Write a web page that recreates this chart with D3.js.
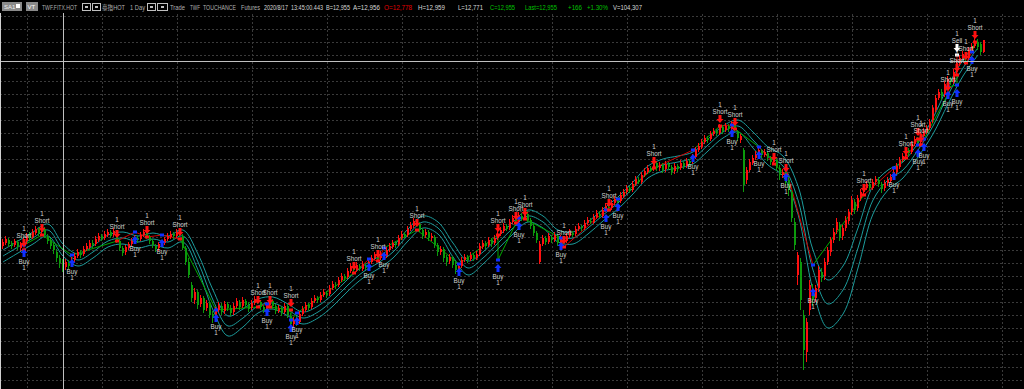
<!DOCTYPE html>
<html><head><meta charset="utf-8">
<script src="https://cdn.jsdelivr.net/npm/d3@7"></script>
<style>html,body{margin:0;padding:0;background:#000;overflow:hidden}</style>
</head><body><svg id="c" width="1024" height="389"></svg>
<script>
// ---------- DATA (daily OHLC, TWF.FITX.HOT) ----------
const opens=[9870,9915,9960,9915,9885,9930,9840,9900,9945,10035,
10005,10065,10125,10080,10125,10020,9960,9885,9780,9690,
9630,9555,9615,9585,9660,9720,9765,9750,9825,9855,
9915,9900,9960,10020,9990,10035,10080,10035,10080,9945,
9840,9780,9840,9900,9930,9990,9975,10035,10080,10005,
9945,9870,9840,9900,9915,9975,10005,10050,10020,10080,
10020,9840,9630,9285,9060,9180,9000,9090,8940,9015,
8850,8790,8910,8970,8895,9000,8940,8880,8970,9030,
8970,9045,8985,8940,9015,9075,9030,8955,8910,8985,
9045,8970,8895,8940,8880,8970,8820,8700,8775,8730,
8850,8910,8985,8955,9045,9090,9060,9135,9165,9150,
9240,9285,9285,9360,9420,9405,9495,9570,9510,9570,
9525,9585,9555,9630,9690,9735,9690,9735,9720,9810,
9855,9915,9900,9990,10050,10035,10125,10170,10245,10200,
10110,10035,10080,9990,10005,9885,9780,9825,9705,9645,
9690,9585,9525,9570,9660,9705,9675,9735,9690,9750,
9855,9915,9885,9960,9915,9990,10050,10095,10170,10140,
10230,10275,10245,10320,10290,10350,10260,10170,10065,9630,
9900,9990,9930,10005,9960,10020,9915,9975,9945,10020,
10065,10050,10125,10155,10140,10215,10245,10230,10305,10350,
10320,10410,10455,10440,10515,10560,10545,10620,10680,10725,
10710,10800,10860,10830,10935,10980,11040,11025,11115,11040,
11085,11025,11100,11055,10995,11070,11040,11115,11070,11145,
11130,11205,11310,11355,11430,11490,11475,11550,11595,11565,
11655,11610,11670,11625,11700,11580,11460,11310,10860,11010,
11115,11190,11235,11295,11235,11265,11190,11130,11160,11040,
10935,10980,10860,10680,10230,9435,9630,8835,8280,8910,
9210,9090,9240,9480,9420,9630,9780,9960,10110,10185,
10020,10140,10245,10380,10530,10440,10590,10680,10740,10800,
10740,10830,10860,10800,10740,10815,10845,10890,10980,11055,
11160,11220,11310,11280,11400,11460,11430,11520,11580,11640,
11760,11910,12090,12180,12135,12285,12360,12330,12480,12600,
12690,12735,12690,12795,12870,12930,12900,12778];
const highs=[9975,10020,9990,9945,9975,9960,9930,10005,10065,10080,
10125,10170,10155,10200,10155,10050,9990,9915,9825,9735,
9675,9675,9660,9705,9765,9825,9810,9870,9915,9960,
9960,10020,10065,10050,10095,10125,10110,10140,10110,9975,
9870,9885,9930,9990,10035,10020,10080,10125,10110,10035,
9975,9900,9930,9960,10005,10065,10095,10080,10125,10125,
10050,9870,9690,9330,9240,9210,9135,9120,9060,9045,
8895,8955,9030,9015,9045,9030,8985,9015,9090,9060,
9105,9075,9030,9060,9120,9120,9060,8985,9030,9105,
9075,9000,8985,8970,9015,9000,8865,8805,8820,8895,
8970,9030,9015,9090,9135,9120,9180,9225,9195,9285,
9345,9330,9405,9465,9450,9540,9615,9600,9630,9600,
9645,9615,9675,9735,9780,9765,9795,9765,9855,9915,
9960,9945,10035,10095,10080,10170,10230,10290,10275,10230,
10140,10125,10110,10065,10035,9915,9870,9855,9735,9750,
9720,9630,9615,9705,9750,9735,9780,9765,9795,9915,
9960,9945,10005,9990,10035,10095,10155,10215,10200,10275,
10335,10320,10380,10365,10410,10395,10290,10200,10095,9945,
10035,10020,10065,10035,10080,10050,10035,10005,10065,10125,
10095,10170,10215,10185,10260,10305,10290,10350,10410,10395,
10455,10515,10500,10560,10620,10605,10680,10725,10785,10770,
10845,10920,10905,10980,11040,11085,11070,11160,11145,11130,
11115,11145,11130,11085,11115,11100,11160,11145,11190,11175,
11250,11355,11415,11475,11535,11520,11595,11640,11625,11700,
11685,11715,11700,11745,11730,11610,11550,11340,11055,11175,
11235,11295,11355,11325,11325,11295,11220,11220,11190,11085,
11025,11010,10905,10710,10290,9780,9690,8910,8790,9360,
9300,9285,9570,9540,9690,9855,10005,10140,10290,10230,
10185,10320,10425,10620,10575,10635,10725,10785,10845,10830,
10875,10920,10905,10830,10860,10905,10950,11025,11115,11205,
11265,11355,11340,11445,11520,11505,11565,11640,11685,11775,
11985,12135,12225,12225,12345,12420,12405,12525,12660,12735,
12795,12780,12855,12915,12990,12975,12930,12959];
const lows=[9825,9885,9855,9825,9855,9810,9795,9870,9915,9945,
9975,10035,10020,10050,9990,9900,9825,9750,9630,9540,
9480,9510,9525,9555,9630,9690,9690,9720,9795,9825,
9840,9870,9930,9945,9960,10005,9990,10005,9915,9795,
9720,9735,9810,9870,9900,9915,9945,10005,9975,9900,
9840,9780,9795,9855,9885,9945,9975,9975,9990,10005,
9810,9585,9390,9030,9000,8925,8955,8865,8895,8790,
8715,8760,8880,8835,8850,8895,8820,8835,8940,8910,
8940,8940,8880,8910,8985,9000,8910,8865,8880,8955,
8925,8850,8865,8820,8850,8790,8610,8655,8670,8700,
8820,8880,8895,8925,9015,9015,9030,9105,9090,9120,
9210,9225,9255,9330,9345,9375,9465,9480,9480,9495,
9495,9510,9525,9600,9660,9645,9660,9660,9690,9780,
9825,9840,9870,9960,9990,10005,10095,10140,10155,10080,
9975,9990,9945,9945,9840,9720,9735,9630,9570,9600,
9540,9450,9480,9540,9630,9615,9645,9645,9660,9720,
9825,9825,9855,9855,9885,9960,10020,10065,10095,10110,
10200,10215,10215,10245,10260,10230,10125,10020,9915,9600,
9870,9885,9900,9915,9930,9870,9885,9900,9915,9990,
10005,10020,10095,10095,10110,10185,10200,10200,10275,10290,
10290,10380,10410,10410,10485,10500,10515,10590,10650,10665,
10680,10770,10800,10800,10905,10950,10980,10995,10995,10995,
10965,10980,11010,10935,10950,10980,11010,11025,11040,11070,
11100,11175,11280,11325,11400,11415,11445,11520,11520,11535,
11550,11580,11580,11595,11565,11445,11415,10680,10800,10980,
11085,11160,11205,11190,11205,11145,11085,11085,10995,10860,
10890,10785,10620,10230,9810,9285,8910,8010,8130,8835,
8970,9030,9180,9330,9360,9585,9720,9915,10050,9945,
9960,10095,10200,10335,10350,10395,10545,10635,10710,10695,
10710,10785,10755,10665,10695,10770,10815,10860,10950,11025,
11130,11190,11220,11250,11370,11385,11400,11490,11550,11610,
11715,11880,12060,12060,12105,12255,12285,12300,12450,12570,
12660,12630,12660,12765,12840,12810,12735,12771];
const closes=[9930,9975,9900,9870,9945,9855,9900,9960,10020,9990,
10080,10125,10065,10140,10035,9945,9870,9810,9690,9615,
9540,9630,9570,9660,9720,9780,9735,9825,9870,9915,
9885,9975,10020,9975,10050,10080,10020,10095,9960,9840,
9765,9855,9900,9945,9990,9960,10035,10080,10005,9945,
9885,9825,9900,9930,9975,10020,10050,10020,10080,10035,
9840,9630,9435,9090,9180,8985,9090,8910,9015,8835,
8790,8910,8985,8880,9000,8940,8865,8970,9045,8955,
9060,8985,8925,9015,9075,9030,8955,8910,8985,9060,
8970,8895,8940,8865,8970,8835,8700,8760,8730,8850,
8925,8985,8940,9045,9090,9060,9135,9180,9135,9240,
9300,9270,9360,9420,9390,9495,9570,9510,9585,9525,
9600,9540,9630,9690,9735,9675,9750,9705,9810,9870,
9915,9885,9990,10050,10020,10125,10185,10245,10200,10110,
10020,10080,9990,10020,9885,9780,9825,9690,9630,9705,
9585,9510,9570,9660,9705,9660,9735,9690,9750,9870,
9915,9870,9960,9900,9990,10050,10110,10170,10125,10230,
10290,10245,10335,10275,10365,10260,10170,10065,9960,9900,
9990,9930,10020,9960,10035,9915,9990,9945,10020,10080,
10035,10125,10170,10140,10215,10260,10230,10305,10365,10320,
10410,10470,10440,10515,10575,10530,10635,10680,10740,10695,
10800,10875,10830,10935,10995,11040,11010,11115,11040,11085,
11010,11100,11055,10980,11070,11025,11115,11070,11145,11115,
11205,11310,11370,11430,11490,11460,11550,11595,11565,11655,
11595,11670,11625,11700,11610,11490,11520,10785,11010,11130,
11190,11250,11310,11235,11280,11190,11130,11175,11055,10935,
10980,10860,10710,10290,9885,9735,9060,8310,8730,9285,
9060,9240,9510,9390,9630,9810,9960,10080,10230,9990,
10140,10260,10380,10560,10410,10590,10680,10740,10800,10740,
10830,10875,10800,10725,10815,10860,10905,10980,11070,11160,
11220,11310,11265,11400,11475,11430,11520,11595,11640,11730,
11940,12090,12180,12120,12300,12375,12330,12480,12615,12690,
12750,12675,12810,12870,12945,12855,12780,12955];

// indicator bands, sampled every 5th bar
const bandEvery = 5;
const bandUpper=[9810,9945,10080,10200,9900,9750,9870,10035,10080,10020,
10065,10020,10110,9750,9210,8820,8925,9075,9105,9000,
8880,8970,9150,9375,9570,9705,9870,10125,10320,10230,
9915,9645,9780,10005,10230,10410,10320,10110,10080,10230,
10425,10605,10830,11070,11175,11220,11280,11475,11670,11760,
11580,11355,11220,10770,9810,9360,9570,10140,10770,11010,
11130,11415,11790,12270,12660,12945];
const bandMid=[9720,9855,9990,10110,9810,9660,9780,9945,9990,9930,
9975,9930,10020,9630,9060,8670,8790,8970,9015,8910,
8790,8880,9060,9285,9480,9615,9780,10035,10230,10140,
9810,9540,9690,9915,10140,10320,10230,10020,9990,10140,
10335,10515,10740,10980,11085,11130,11190,11385,11580,11670,
11460,11220,11070,10560,9510,9000,9210,9840,10560,10860,
11010,11310,11670,12135,12540,12840];
const bandLower=[9630,9765,9900,10020,9720,9570,9690,9855,9900,9840,
9885,9840,9930,9510,8910,8520,8655,8865,8925,8820,
8700,8790,8970,9195,9390,9525,9690,9945,10140,10050,
9705,9435,9600,9825,10050,10230,10140,9930,9900,10050,
10245,10425,10650,10890,10995,11040,11100,11295,11490,11580,
11340,11085,10920,10350,9210,8640,8850,9540,10350,10710,
10890,11205,11550,12000,12420,12735];

// strategy signals
const sigBars=[7,7,13,23,38,44,48,53,59,71,85,88,89,96,96,98,117,122,125,127,138,152,165,165,171,172,174,186,187,201,202,205,217,230,239,243,244,252,257,261,261,270,287,297,301,305,305,306,307,315,315,318,318,318,321,323,324];
const sigTypes=["Short","Buy","Short","Buy","Short","Buy","Short","Buy","Short","Buy","Short","Buy","Short","Short","Buy","Buy","Short","Buy","Short","Buy","Short","Buy","Short","Buy","Short","Buy","Short","Buy","Short","Buy","Short","Buy","Short","Buy","Short","Buy","Short","Buy","Short","Short","Buy","Buy","Short","Buy","Short","Short","Buy","Short","Buy","Short","Buy","Buy","Short","Sell","Short","Buy","Short"];
const sigMarks=[9915,9765,10140,9615,10050,9960,10110,9915,10080,8790,9060,8880,9060,9015,8640,8745,9570,9555,9750,9720,10215,9480,10140,9540,10320,10170,10380,9870,9960,10290,10515,10455,11145,11190,11775,11565,11730,11235,11205,11040,10905,9180,10740,10920,11295,11580,11265,11490,11355,12255,12135,12165,12540,12840,12720,12660,13035];
const sigFills=[9810,9885,10035,9735,9945,10080,10005,10035,9975,8910,8955,9000,8955,8910,8760,8865,9465,9675,9645,9840,10110,9600,10035,9660,10215,10290,10275,9990,9855,10410,10410,10575,11040,11310,11670,11685,11625,11355,11100,10935,11025,9585,10635,11040,11190,11475,11385,11385,11475,12150,12255,12285,12435,12735,12615,12780,12930];
const sigQty=1;

// header texts
const headerTexts=["TWF.FITX.HOT","臺指HOT","1 Day","Trade","TWF","TOUCHANCE","Futures","2020/8/17","13:45:00.443","B=12,955","A=12,956","O=12,778","H=12,959","L=12,771","C=12,955","Last=12,955","+166","+1.30%","V=104,307"];

// ---------- LAYOUT ----------
const W=1024,H=389;
const headerX=[42,102,130,170,190,203,241,264,291,326,353,384,418,458,490,525,568,587,613];
const headerW=[35,23,15,15,10,33,19,24,32,24,27,28,27,25,25,32,14,21,29];
const headerCol=["#b0b0b0","#b0b0b0","#b0b0b0","#b0b0b0","#b0b0b0","#b0b0b0","#b0b0b0","#d8d8d8","#d8d8d8","#d8d8d8","#d8d8d8","#e00000","#d8d8d8","#d8d8d8","#00c000","#00c000","#00c000","#00c000","#d8d8d8"];

const svg=d3.select("#c");
svg.append("rect").attr("width",W).attr("height",H).attr("fill","#000");

const x=d3.scaleLinear().domain([0,closes.length-1]).range([3,984]);
const y=d3.scaleLinear().domain([7725,13350]).range([389,14]);

// grid
const grid=svg.append("g").attr("stroke","#3a3a3a").attr("stroke-dasharray","2,2").attr("shape-rendering","crispEdges");
d3.range(16,389,13).forEach(v=>grid.append("line").attr("x1",0).attr("x2",W).attr("y1",v+0.5).attr("y2",v+0.5));
d3.range(27,W,75).forEach(v=>grid.append("line").attr("y1",14).attr("y2",H).attr("x1",v+0.5).attr("x2",v+0.5));

// bands
const bandLine=d3.line().x((d,k)=>x(k*bandEvery)).y(d=>y(d)).curve(d3.curveCatmullRom.alpha(0.5));
[bandUpper,bandMid,bandLower].forEach(arr=>{
  svg.append("path").attr("d",bandLine(arr)).attr("fill","none").attr("stroke","#1c9c9c").attr("stroke-width",1);
});

// trade lines
const tl=svg.append("g");
for(let k=0;k<sigBars.length-1;k++){
  const t=sigTypes[k];
  if(t==="Sell") continue;
  const up=sigFills[k+1]>sigFills[k];
  const win=(t==="Buy")?up:!up;
  tl.append("line").attr("x1",x(sigBars[k])).attr("y1",y(sigFills[k]))
    .attr("x2",x(sigBars[k+1])).attr("y2",y(sigFills[k+1]))
    .attr("stroke",win?"#00a800":"#d00000").attr("stroke-width",1);
}

// candles
const cg=svg.append("g").attr("shape-rendering","crispEdges");
closes.forEach((c,i)=>{
  const o=opens[i];
  const col=c>=o?"#ff1010":"#0c9a0c";
  const px=Math.round(x(i));
  cg.append("line").attr("x1",px-0.5).attr("x2",px-0.5).attr("y1",y(highs[i])).attr("y2",y(lows[i])).attr("stroke",col);
  const top=y(Math.max(o,c)),bot=y(Math.min(o,c));
  cg.append("rect").attr("x",px-1).attr("width",2).attr("y",top).attr("height",Math.max(1,bot-top)).attr("fill",col);
});

// fill markers
const fm=svg.append("g");
sigBars.forEach((b,k)=>{
  const t=sigTypes[k];
  fm.append("rect").attr("x",x(b)-2).attr("y",y(sigFills[k])-1.5).attr("width",4).attr("height",3)
    .attr("fill",t==="Buy"?"#1030ff":(t==="Sell"?"#ffffff":"#ff1010"));
});

// signal arrows and labels
const sg=svg.append("g").attr("font-family","Liberation Sans, Arial, sans-serif").attr("font-size","6.3px").attr("fill","#d0d0d0").attr("text-anchor","middle");
sigBars.forEach((b,k)=>{
  const t=sigTypes[k];
  const cx=x(b), cy=y(sigMarks[k]);
  if(t==="Buy"){
    sg.append("path").attr("d",`M${cx-3.5},${cy} L${cx},${cy-4} L${cx+3.5},${cy} L${cx+1.5},${cy} L${cx+1.5},${cy+4} L${cx-1.5},${cy+4} L${cx-1.5},${cy} Z`).attr("fill","#1030ff");
    sg.append("text").attr("x",cx).attr("y",cy+11).text(t);
    sg.append("text").attr("x",cx).attr("y",cy+17).text(sigQty);
  } else {
    sg.append("path").attr("d",`M${cx-3.5},${cy} L${cx},${cy+4} L${cx+3.5},${cy} L${cx+1.5},${cy} L${cx+1.5},${cy-4} L${cx-1.5},${cy-4} L${cx-1.5},${cy} Z`).attr("fill",t==="Sell"?"#ffffff":"#ff1010");
    sg.append("text").attr("x",cx).attr("y",cy-5.5).text(t);
    sg.append("text").attr("x",cx).attr("y",cy-12).text(sigQty);
  }
});

// crosshair
svg.append("line").attr("x1",0).attr("x2",W).attr("y1",61.5).attr("y2",61.5).attr("stroke","#c0c0c0");
svg.append("line").attr("x1",63.5).attr("x2",63.5).attr("y1",13).attr("y2",H).attr("stroke","#c0c0c0");
svg.append("line").attr("x1",0.5).attr("x2",0.5).attr("y1",13).attr("y2",H).attr("stroke","#d0d0d0");

// header
const hd=svg.append("g");
hd.append("rect").attr("x",0).attr("y",0).attr("width",W).attr("height",13).attr("fill","#000");
hd.append("rect").attr("x",2).attr("y",2).attr("width",20).attr("height",9).attr("fill","#8a8a8a");
hd.append("text").attr("x",4).attr("y",9).attr("font-size","6px").attr("font-family","Liberation Sans, Arial").attr("fill","#eee").text("SA1");
hd.append("rect").attr("x",16).attr("y",4).attr("width",4).attr("height",4).attr("fill","#fff");
hd.append("rect").attr("x",26).attr("y",2).attr("width",12).attr("height",9).attr("fill","#8a8a8a");
hd.append("text").attr("x",27.5).attr("y",9).attr("font-size","6px").attr("font-family","Liberation Sans, Arial").attr("fill","#fff").text("VT");
[[82,8],[92,8],[147,8],[157,10]].forEach(([bx,bw])=>{
  hd.append("rect").attr("x",bx+0.5).attr("y",3.5).attr("width",bw).attr("height",7).attr("fill","none").attr("stroke","#c0c0c0");
  hd.append("rect").attr("x",bx+bw/2-1).attr("y",6).attr("width",3).attr("height",2).attr("fill","#c0c0c0");
});
headerTexts.forEach((t,k)=>{
  hd.append("text").attr("x",headerX[k]).attr("y",9.5).attr("font-size","6.5px")
    .attr("textLength",headerW[k]).attr("lengthAdjust","spacingAndGlyphs")
    .attr("font-family","Liberation Sans, Arial, 'Noto Sans CJK TC', sans-serif").attr("fill",headerCol[k]).text(t);
});
</script>
</body></html>
